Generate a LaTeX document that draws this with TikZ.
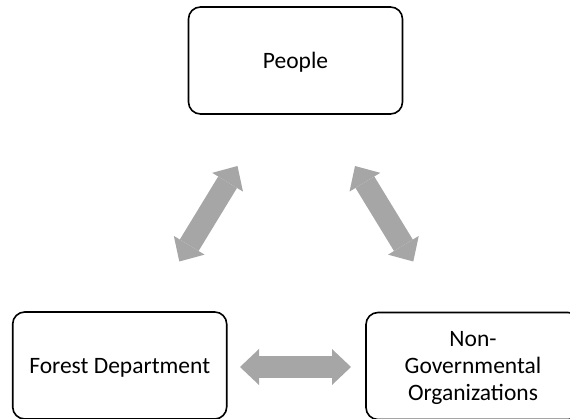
\documentclass[tikz,border=0pt]{standalone}
\usepackage{fontspec}
\setmainfont{Carlito}
\usetikzlibrary{arrows.meta}
\definecolor{arrowgray}{HTML}{A6A6A6}
\begin{document}
\begin{tikzpicture}[x=1pt,y=-1pt,
  box/.style={draw=black, line width=1.6pt, rounded corners=12pt,
    minimum width=214pt, minimum height=107pt, inner sep=0pt, text depth=0pt,
    align=center, font=\fontsize{23.5}{27}\selectfont},
  bigarrow/.style={draw=arrowgray, line width=22pt, {Triangle[width=36pt,length=19pt,line width=0pt,fill=arrowgray]}-{Triangle[width=36pt,length=19pt,line width=0pt,fill=arrowgray]}}]
\useasboundingbox (0,0) rectangle (570,419);
\node[box] (people) at (295.5,60.5) {People};
\node[box] (forest) at (119.7,365.5) {Forest Department};
\node[box] (ngo) at (473,366) {Non-\\Governmental\\Organizations};
\coordinate (l1) at (179.3,261.5);
\coordinate (l2) at (237.5,166);
\coordinate (r1) at (355,166);
\coordinate (r2) at (413.3,261.5);
\coordinate (h1) at (240,367);
\coordinate (h2) at (351,367);
\draw[bigarrow] (l1) -- (l2);
\draw[bigarrow] (r1) -- (r2);
\draw[bigarrow] (h1) -- (h2);
\end{tikzpicture}
\end{document}
